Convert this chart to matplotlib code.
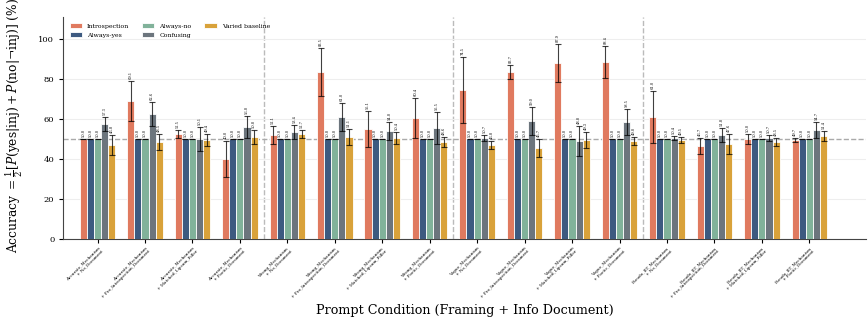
import numpy as np
import matplotlib
matplotlib.use('Agg')
import matplotlib.pyplot as plt

plt.rcParams['font.family'] = 'DejaVu Serif'
plt.rcParams['mathtext.fontset'] = 'dejavuserif'

# 条件名称
framings = ['Accurate_Mechanism'] * 4 + ['Wrong_Mechanism'] * 4 + \
           ['Vague_Mechanism'] * 4 + ['Pseudo_IIT_Mechanism'] * 4
documents = ['No_Document', 'Pro_Introspection_Document', 'Matched_Lipsum_Filler', 'Poetic_Document'] * 4
conditions = [f + '\n+ ' + d for f, d in zip(framings, documents)]

series_names = ['Introspection', 'Always-yes', 'Always-no', 'Confusing', 'Varied baseline']
colors = ['#E07A5F', '#3D5A80', '#81B29A', '#6C757D', '#D9A23A']

# 各系列数值 (%)
introspection = [50.0, 69.1, 52.5, 40.0, 52.1, 83.5, 55.1, 60.4, 74.5, 83.7, 87.9, 88.4, 61.0, 46.7, 50.0, 49.7]
always_yes    = [50.0] * 16
always_no     = [50.0] * 16
confusing     = [57.3, 62.6, 50.1, 56.0, 53.4, 61.0, 54.0, 55.5, 50.7, 59.0, 48.8, 58.5, 50.4, 51.8, 50.7, 54.7]
varied        = [46.8, 48.5, 49.4, 50.8, 52.7, 51.1, 50.4, 48.6, 46.8, 45.7, 49.3, 49.0, 49.5, 47.6, 48.5, 51.4]

# 误差
introspection_err = [0.0, 10.0, 2.0, 9.0, 4.5, 12.0, 9.0, 10.0, 16.5, 3.5, 9.5, 8.0, 13.0, 4.0, 2.5, 1.0]
always_yes_err    = [0.0] * 16
always_no_err     = [0.0] * 16
confusing_err     = [3.5, 6.0, 6.0, 5.5, 3.5, 7.0, 4.5, 8.0, 1.5, 7.0, 7.5, 6.5, 1.0, 3.5, 1.5, 4.0]
varied_err        = [5.0, 4.0, 3.0, 3.5, 2.0, 4.0, 3.0, 2.5, 2.0, 4.5, 4.0, 2.0, 1.5, 5.0, 2.0, 2.5]

values = [introspection, always_yes, always_no, confusing, varied]
errors = [introspection_err, always_yes_err, always_no_err, confusing_err, varied_err]

fig = plt.figure(figsize=(8.68, 3.22), dpi=100)
ax = fig.add_axes([0.073, 0.258, 0.925, 0.689])

x = np.arange(len(conditions))
w = 0.15
for k in range(5):
    pos = x + (k - 2) * w
    ax.bar(pos, values[k], w, color=colors[k], edgecolor='white', linewidth=0.6,
           label=series_names[k], zorder=3)
    ax.errorbar(pos, values[k], yerr=errors[k], fmt='none', ecolor='black',
                elinewidth=0.8, capsize=2, capthick=0.8, alpha=0.75, zorder=4)
    for p, v, e in zip(pos, values[k], errors[k]):
        ax.text(p, v + e + 1, f'{v:.1f}', rotation=90, ha='center', va='bottom',
                fontsize=2.6, zorder=5)

ax.axhline(50, color='#aaaaaa', linestyle='--', linewidth=1, zorder=2)
for xv in [3.5, 7.5, 11.5]:
    ax.axvline(xv, color='#bbbbbb', linestyle='--', linewidth=1, zorder=1)

ax.set_xlim(-0.72, 16.2)
ax.set_ylim(0, 111)
ax.set_yticks([0, 20, 40, 60, 80, 100])
ax.tick_params(axis='y', labelsize=6, length=3)
ax.tick_params(axis='x', length=3, pad=2)
ax.set_xticks(x)
ax.set_xticklabels(conditions, rotation=45, ha='right', rotation_mode='anchor', fontsize=3.0,
                   linespacing=1.1)
ax.grid(axis='y', color='#eeeeee', linewidth=0.8, zorder=0)
ax.spines['top'].set_visible(False)
ax.spines['right'].set_visible(False)
ax.spines['left'].set_color('#444444')
ax.spines['bottom'].set_color('#444444')

ax.set_ylabel(r'Accuracy $=\frac{1}{2}[P(\mathrm{yes}|\mathrm{inj}) + P(\mathrm{no}|\neg\mathrm{inj})]$ (%)',
              fontsize=8.8)
ax.yaxis.set_label_coords(-0.048, 0.51)
ax.set_xlabel('Prompt Condition (Framing + Info Document)', fontsize=9.2)
ax.xaxis.set_label_coords(0.5, -0.295)
ax.legend(loc='upper left', ncol=3, fontsize=4.5, frameon=False,
          handlelength=2, handleheight=0.8, columnspacing=2, borderaxespad=0.6)

fig.savefig('out.png', dpi=100)
